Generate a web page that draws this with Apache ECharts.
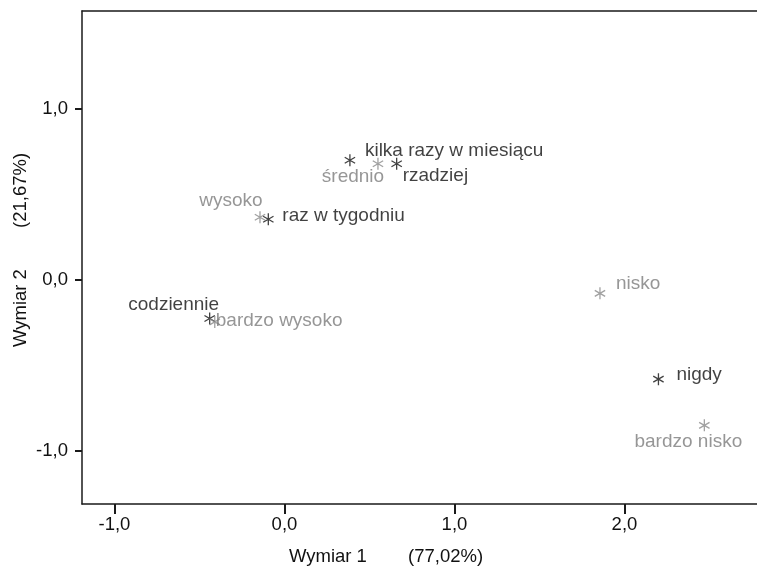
<!DOCTYPE html>
<html>
<head>
<meta charset="utf-8">
<script src="https://cdn.jsdelivr.net/npm/echarts@6/dist/echarts.min.js"></script>
<style>html,body{margin:0;padding:0;background:#fff}#c{width:757px;height:571px}</style>
</head>
<body>
<div id="c"></div>
<script>
// Frequency categories (black)
var freqNames = ['kilka razy w miesiącu', 'rzadziej', 'raz w tygodniu', 'codziennie', 'nigdy'];
var freqDim1 = [0.385, 0.66, -0.095, -0.44, 2.20];
var freqDim2 = [0.70, 0.68, 0.355, -0.225, -0.58];
// Level categories (gray)
var levelNames = ['średnio', 'wysoko', 'bardzo wysoko', 'nisko', 'bardzo nisko'];
var levelDim1 = [0.55, -0.144, -0.41, 1.856, 2.47];
var levelDim2 = [0.68, 0.367, -0.245, -0.078, -0.85];
// Tick labels
var xTicks = [-1, 0, 1, 2];
var yTicks = [-1, 0, 1];

// label placement (style only): [align, dx, dy]
var freqLabelPos = [['left', 15, -10], ['left', 6, 12], ['left', 14, -4], ['center', -36, -14], ['left', 18, -4]];
var levelLabelPos = [['center', -25, 13], ['center', -29, -16.5], ['left', 1, -1], ['left', 16, -10], ['center', -16, 16.5]];

var FONT = 'Liberation Sans, Arial, sans-serif';
var star = 'path://M0,-10L0,10M-8.66,-5L8.66,5M-8.66,5L8.66,-5';

function build(names, xs, ys, pos, textColor) {
  return names.map(function (n, i) {
    return {
      name: n,
      value: [xs[i], ys[i]],
      label: {
        show: true, formatter: n, position: 'inside',
        align: pos[i][0], verticalAlign: 'middle',
        offset: [pos[i][1], pos[i][2]],
        color: textColor, fontSize: 19, fontFamily: FONT
      }
    };
  });
}
function fmt(v) { return v.toFixed(1).replace('.', ','); }

var chart = echarts.init(document.getElementById('c'), null, {renderer: 'canvas'});
chart.setOption({
  animation: false,
  grid: {left: 82, top: 11, width: 690, height: 493, containLabel: false, outerBoundsMode: 'none'},
  xAxis: [{
    type: 'value', min: -1.191, max: 2.868,
    splitLine: {show: false},
    axisLine: {show: true, onZero: false, lineStyle: {color: '#1a1a1a', width: 1.5}},
    axisTick: {show: true, customValues: xTicks, length: 10, lineStyle: {color: '#1a1a1a', width: 2}},
    axisLabel: {show: true, customValues: xTicks, formatter: fmt, margin: 11, color: '#111', fontSize: 18.5, fontFamily: FONT},
    name: 'Wymiar 1        (77,02%)', nameLocation: 'middle', nameGap: 43, nameMoveOverlap: false,
    nameTextStyle: {color: '#111', fontSize: 18.5, fontFamily: FONT, padding: [0, 82, 0, 0]}
  }, {
    type: 'value', position: 'top', min: -1.191, max: 2.868,
    splitLine: {show: false},
    axisLine: {show: true, onZero: false, lineStyle: {color: '#1a1a1a', width: 1.5}},
    axisTick: {show: false}, axisLabel: {show: false}
  }],
  yAxis: {
    type: 'value', min: -1.31, max: 1.573,
    splitLine: {show: false},
    axisLine: {show: true, onZero: false, lineStyle: {color: '#1a1a1a', width: 1.5}},
    axisTick: {show: true, customValues: yTicks, length: 7, lineStyle: {color: '#1a1a1a', width: 2}},
    axisLabel: {show: true, customValues: yTicks, formatter: fmt, margin: 14, color: '#111', fontSize: 18.5, fontFamily: FONT},
    name: 'Wymiar 2        (21,67%)', nameLocation: 'middle', nameGap: 52, nameRotate: 90, nameMoveOverlap: false,
    nameTextStyle: {color: '#111', fontSize: 18.5, fontFamily: FONT, padding: [0, 0, 0, 15]}
  },
  series: [{
    type: 'scatter', name: 'freq', xAxisIndex: 0,
    symbol: star, symbolSize: 12, symbolKeepAspect: true,
    itemStyle: {color: 'none', borderColor: '#111', borderWidth: 1.3},
    data: build(freqNames, freqDim1, freqDim2, freqLabelPos, '#111')
  }, {
    type: 'scatter', name: 'level', xAxisIndex: 0,
    symbol: star, symbolSize: 12, symbolKeepAspect: true,
    itemStyle: {color: 'none', borderColor: '#8a8a8a', borderWidth: 1.3},
    data: build(levelNames, levelDim1, levelDim2, levelLabelPos, '#7c7c7c')
  }]
});
</script>
</body>
</html>
